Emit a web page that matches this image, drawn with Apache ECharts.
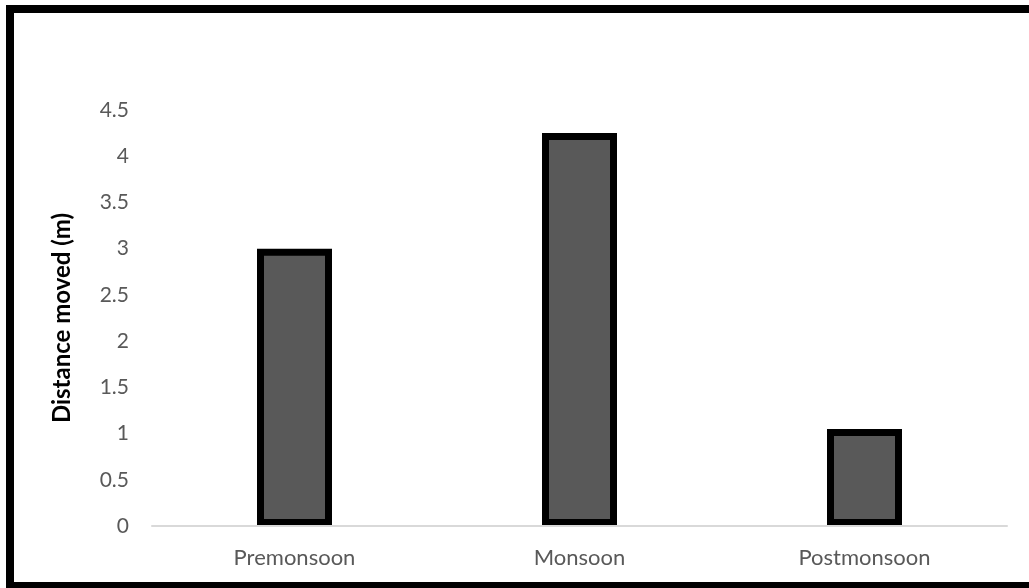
<!DOCTYPE html>
<html>
<head>
<meta charset="utf-8">
<script src="https://cdn.jsdelivr.net/npm/echarts@6/dist/echarts.min.js"></script>
<style>
  html, body { margin: 0; padding: 0; background: #ffffff; }
  #chart { width: 1029px; height: 588px; }
</style>
</head>
<body>
<div id="chart"></div>
<script>
// Seasonal distance moved, in metres
const seasons = ['Premonsoon', 'Monsoon', 'Postmonsoon'];
const distanceMoved = [3.0, 4.25, 1.05];
const yTicks = [0, 0.5, 1, 1.5, 2, 2.5, 3, 3.5, 4, 4.5];

const FONT = 'Lato';
const chart = echarts.init(document.getElementById('chart'), null, { renderer: 'canvas' });

chart.setOption({
  backgroundColor: '#ffffff',
  animation: false,
  grid: { left: 152, right: 22, top: 110, bottom: 62, containLabel: false },
  xAxis: {
    type: 'category',
    data: seasons,
    z: 5,
    axisLine: { show: true, lineStyle: { color: '#d9d9d9', width: 2 } },
    axisTick: { show: false },
    axisLabel: { color: '#595959', fontFamily: FONT, fontSize: 22, margin: 21 }
  },
  yAxis: {
    type: 'value',
    min: yTicks[0],
    max: yTicks[yTicks.length - 1],
    interval: 0.5,
    name: 'Distance moved (m)',
    nameLocation: 'middle',
    nameGap: 78,
    nameTextStyle: { color: '#000000', fontFamily: FONT, fontSize: 24, fontWeight: 'bold' },
    axisLine: { show: false },
    axisTick: { show: false },
    splitLine: { show: false },
    axisLabel: {
      color: '#595959', fontFamily: FONT, fontSize: 21, margin: 23,
      formatter: v => String(v)
    }
  },
  series: [{
    type: 'bar',
    data: distanceMoved,
    barWidth: 75,
    itemStyle: { color: '#595959', borderColor: '#000000', borderWidth: 7 }
  }],
  graphic: [{
    type: 'rect',
    silent: true,
    z: 100,
    shape: { x: 10, y: 9, width: 1060, height: 577 },
    style: { fill: 'none', stroke: '#000000', lineWidth: 8 }
  }]
});
</script>
</body>
</html>
